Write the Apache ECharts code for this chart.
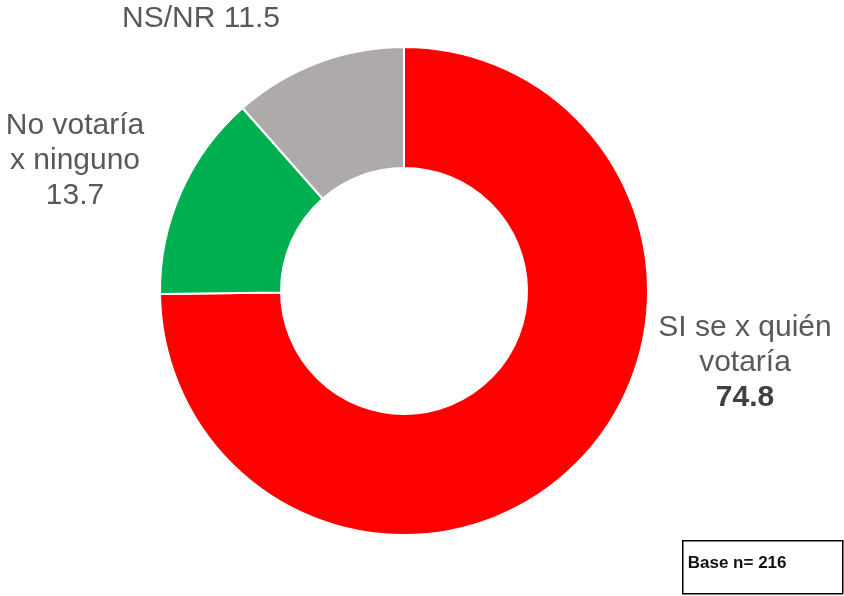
<!DOCTYPE html>
<html>
<head>
<meta charset="utf-8">
<script src="https://cdn.jsdelivr.net/npm/echarts@6/dist/echarts.min.js"></script>
<style>
  html, body { margin: 0; padding: 0; background: #fff; }
  #chart { width: 844px; height: 596px; }
</style>
</head>
<body>
<div id="chart"></div>
<script>
// data
const names = ["SI se x quién\nvotaría", "No votaría\nx ninguno", "NS/NR"];
const values = [74.8, 13.7, 11.5];
const colors = ["#FF0000", "#00B050", "#AEAAAA"];
const baseText = "Base n= 216";

// where each label sits (center of text block)
const labelSpots = [
    { x: 745, y: 363 },
    { x: 75, y: 161 },
    { x: 201, y: 19 }
];

let chart = echarts.init(document.getElementById("chart"));

let pieData = [];
for (let i = 0; i < values.length; i++) {
    pieData.push({
        name: names[i],
        value: values[i],
        itemStyle: { color: colors[i] }
    });
}

let option = {
    animation: false,
    textStyle: { fontFamily: "Liberation Sans, Arial, sans-serif" },
    series: [{
        type: "pie",
        center: [404, 291],
        radius: [123, 244],
        startAngle: 90,
        clockwise: true,
        data: pieData,
        itemStyle: { borderColor: "#fff", borderWidth: 2 },
        labelLine: { show: false },
        label: {
            show: true,
            position: "outside",
            overflow: "none",
            color: "#595959",
            fontSize: 30,
            lineHeight: 35,
            align: "center",
            formatter: function (p) {
                if (p.dataIndex === 0) return p.name + "\n{b|" + p.value + "}";
                if (p.dataIndex === 2) return p.name + " " + p.value;
                return p.name + "\n" + p.value;
            },
            rich: {
                b: { fontWeight: "bold", fontSize: 30, color: "#404040", lineHeight: 35 }
            }
        },
        labelLayout: function (params) {
            let s = labelSpots[params.dataIndex];
            return { x: s.x, y: s.y, align: "center", verticalAlign: "middle" };
        }
    }],
    graphic: [{
        type: "group",
        left: 682,
        top: 540,
        children: [
            {
                type: "rect",
                shape: { x: 0, y: 0, width: 160, height: 53 },
                style: { fill: "#fff", stroke: "#000", lineWidth: 1.5 }
            },
            {
                type: "text",
                x: 5,
                y: 23,
                style: {
                    text: baseText,
                    font: "bold 17px Liberation Sans, Arial, sans-serif",
                    fill: "#111",
                    verticalAlign: "middle"
                }
            }
        ]
    }]
};

chart.setOption(option);
</script>
</body>
</html>
